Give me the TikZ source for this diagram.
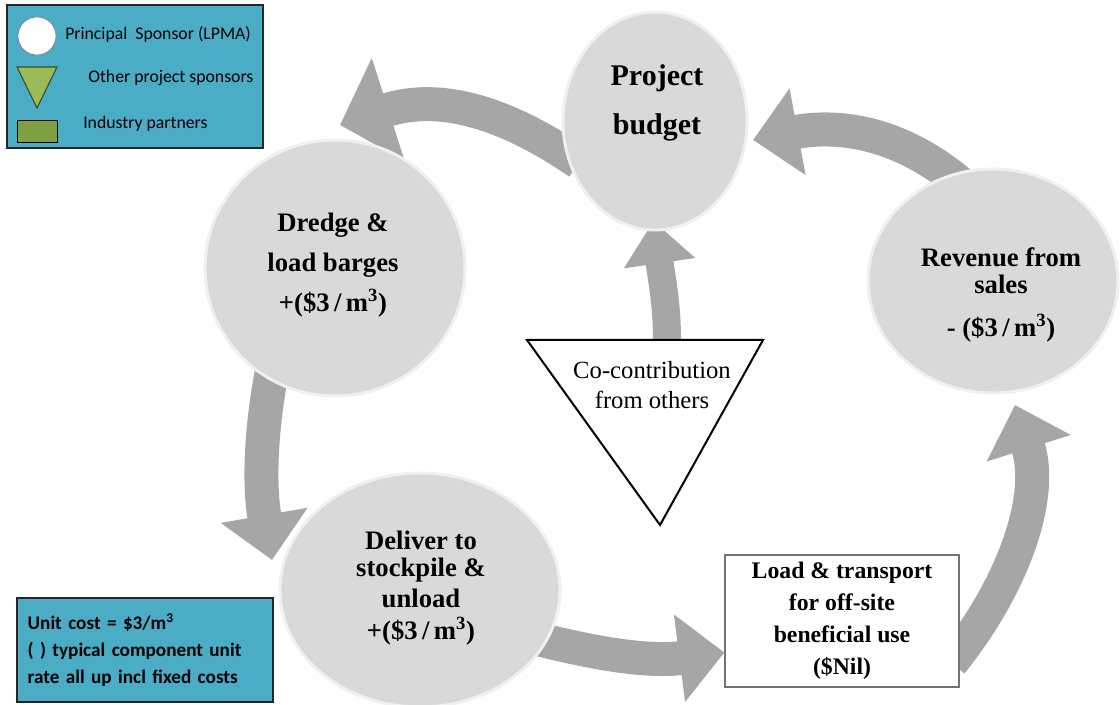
\documentclass[tikz,border=0pt]{standalone}
\usepackage{fontspec}
\setmainfont{Liberation Serif}
\newfontfamily\keyfont{Carlito}
\usetikzlibrary{arrows.meta,backgrounds,shapes.geometric,positioning}

\definecolor{keyblue}{HTML}{4BACC6}
\definecolor{sponsorgreen}{HTML}{9BBB59}
\definecolor{partnergreen}{HTML}{7F9F45}
\definecolor{flowgray}{HTML}{A6A6A6}
\definecolor{stagegray}{HTML}{D9D9D9}

\tikzset{
  stage/.style={ellipse, fill=stagegray, draw=gray!12, line width=2.25pt, inner sep=0pt},
  stagetext/.style={align=center, inner sep=0pt, font=\bfseries\fontsize{20}{30}\selectfont},
  keybox/.style={rectangle, draw=black!85, fill=keyblue, line width=1.5pt, inner sep=0pt},
  keytext/.style={inner sep=0pt, anchor=west, font=\keyfont\fontsize{13.3}{15}\selectfont},
  flow/.style={draw=flowgray, line width=25.5pt, -{Triangle[width=64pt,length=34pt]}},
}

\begin{document}
\begin{tikzpicture}[x=0.75pt, y=-0.75pt]
  \useasboundingbox (0,0) rectangle (1120,705);

  % Legend
  \node[keybox, minimum width=192pt, minimum height=107pt] (key) at (135,76.5) {};
  \node[circle, draw=black!55, fill=white, minimum size=28.5pt, inner sep=0pt] (key-circle) at (37,36) {};
  \draw[fill=sponsorgreen, draw=black!60!sponsorgreen, thick] (17,67) -- (57,67) -- (37,108) -- cycle;
  \node[draw=black, fill=partnergreen, minimum width=30pt, minimum height=16.5pt, inner sep=0pt] (key-rect) at (37,131) {};
  \node[keytext] (key-principal) at (65,34) {Principal\ \ Sponsor (LPMA)};
  \node[keytext] (key-other) at (88,78) {Other project sponsors};
  \node[keytext] (key-industry) at (83,124) {Industry partners};

  % Unit cost note
  \node[keybox, minimum width=192pt, minimum height=78pt, text width=176pt, align=left,
        font=\keyfont\bfseries\fontsize{14.4}{20}\selectfont] (note) at (145,650)
    {Unit cost = \$3/m\textsuperscript{3}\\( ) typical component unit\\rate all up incl fixed costs};

  % Stages of the cycle
  \node[stage, minimum width=138pt, minimum height=163.5pt] (budget) at (655,121) {};
  \node[stage, minimum width=195pt, minimum height=192pt] (dredge) at (335,268) {};
  \node[stage, minimum width=187.5pt, minimum height=168pt] (revenue) at (993,281) {};
  \node[stage, minimum width=210pt, minimum height=175.5pt] (deliver) at (420,590) {};

  \node[stagetext, font=\bfseries\fontsize{22.5}{36.75}\selectfont] (budget-text) at (657,103) {Project\\budget};
  \node[stagetext] (dredge-text) at (333,265) {Dredge \&\\load barges\\+(\$3\,/\,m\textsuperscript{3})};
  \node[stagetext, font=\bfseries\fontsize{20}{20}\selectfont] (revenue-text) at (1001,295) {Revenue from\\sales\\[12pt]-\ (\$3\,/\,m\textsuperscript{3})};
  \node[stagetext, font=\bfseries\fontsize{20}{20}\selectfont] (deliver-text) at (421,588) {Deliver to\\stockpile \&\\[3pt]unload\\[4pt]+(\$3\,/\,m\textsuperscript{3})};

  % Off-site use
  \node[draw=black!55, fill=white, line width=0.8pt, minimum width=175.5pt, minimum height=99pt, align=center,
        font=\bfseries\fontsize{17.8}{24}\selectfont] (load) at (842,621)
    {Load \& transport\\for off-site\\beneficial use\\(\$Nil)};

  % Co-contribution
  \draw[line width=1.5pt, fill=white] (527,340) -- (763,340) -- (660,525) -- cycle;
  \coordinate (coco-top) at (667,340);
  \node[align=center, inner sep=0pt, font=\fontsize{18.5}{22.5}\selectfont] (coco) at (652,385) {Co-contribution\\from others};

  % Flow arrows
  \coordinate (dredge-in) at (340,125);
  \coordinate (budget-in) at (753,140);
  \coordinate (deliver-in) at (272,560);
  \coordinate (revenue-in) at (1015,405);
  \begin{scope}[on background layer]
    \draw[flow, -{Triangle[width=79pt,length=38pt]}, shorten <=-12pt] (budget.200) .. controls (505,112) and (440,93) .. (dredge-in);
    \draw[flow, shorten <=-12pt] (revenue.112) .. controls (910,140) and (850,122) .. (budget-in);
    \draw[flow, shorten <=-12pt] (dredge.240) .. controls (262,420) and (258,480) .. (deliver-in);
    \draw[flow, shorten <=-12pt] (deliver.338) .. controls (600,655) and (650,662) .. (load.195);
    \draw[flow, shorten <=-10pt] (load.345) .. controls (1010,590) and (1045,500) .. (revenue-in);
    \draw[flow, line width=21pt, -{Triangle[width=52pt,length=32pt]}, shorten >=-8pt] (coco-top) .. controls (667,305) and (662,280) .. (budget.south);
  \end{scope}
\end{tikzpicture}
\end{document}
